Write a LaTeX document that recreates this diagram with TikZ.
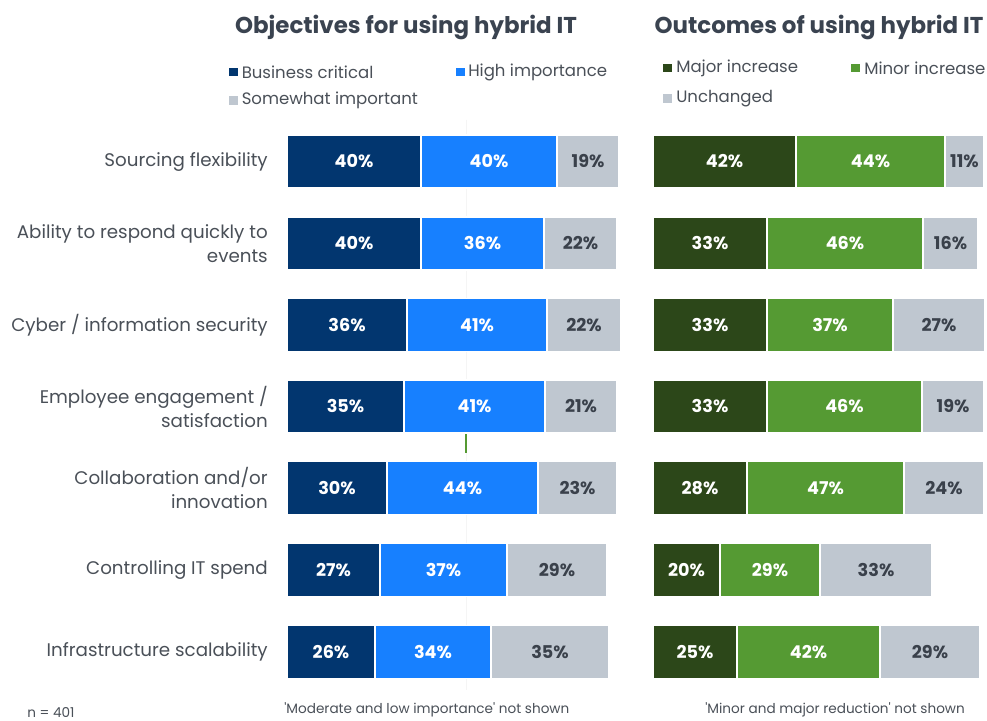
\documentclass[tikz,border=0pt]{standalone}
\usepackage{fontspec}
\setmainfont{Poppins}
\definecolor{navy}{HTML}{02366F}
\definecolor{brightblue}{HTML}{1780FF}
\definecolor{barGray}{HTML}{BFC7D0}
\definecolor{darkgreen}{HTML}{2C4719}
\definecolor{midgreen}{HTML}{559A33}
\definecolor{textgray}{HTML}{4A5058}
\definecolor{titlegray}{HTML}{3A4350}
\definecolor{pctdark}{HTML}{3A414B}
\tikzset{
  seg/.style={draw=white, line width=0.9pt},
  pct/.style={font=\bfseries\fontsize{13.2}{15}\selectfont, inner sep=0pt},
  pctw/.style={pct, text=white},
  pctd/.style={pct, text=pctdark},
  rowlab/.style={anchor=east, align=right, text=textgray, font=\fontsize{13.7}{18}\selectfont, inner sep=0pt},
  legtxt/.style={anchor=west, text=textgray, font=\fontsize{12.4}{15}\selectfont, inner sep=0pt},
  ttl/.style={text=titlegray, font=\bfseries\fontsize{17.2}{20}\selectfont, inner sep=0pt},
  foot/.style={text=textgray, font=\fontsize{10.2}{12}\selectfont, inner sep=0pt, anchor=west},
}
\begin{document}
\begin{tikzpicture}[x=0.75pt,y=-0.75pt]
\useasboundingbox (0,0) rectangle (987,720);
\fill[white] (0,0) rectangle (987,720);
% faint guide line
\draw[draw=black!4, line width=0.6pt] (466,120) -- (466,690);
% titles
\node[ttl] (t1) at (406,27) {Objectives for using hybrid IT};
\node[ttl] (t2) at (819,27) {Outcomes of using hybrid IT};
% legends
\fill[navy] (229,68) rectangle (237.5,76.5);
\node[legtxt] (lg1) at (241.5,72) {Business critical};
\fill[brightblue] (456,68) rectangle (464.5,76.5);
\node[legtxt] (lg2) at (468,72) {High importance};
\fill[barGray] (229,96.5) rectangle (237.5,105);
\node[legtxt] (lg3) at (241.5,100) {Somewhat important};
\fill[darkgreen] (663,64) rectangle (671.5,72.5);
\node[legtxt] (lg4) at (676,68) {Major increase};
\fill[midgreen] (851,64) rectangle (859.5,72.5);
\node[legtxt] (lg5) at (864,68) {Minor increase};
\fill[barGray] (663,94.5) rectangle (671.5,103);
\node[legtxt] (lg6) at (676,99) {Unchanged};
% row labels
\node[rowlab] (r1) at (268,161.5) {Sourcing flexibility};
\node[rowlab] (r2) at (268,243.5) {Ability to respond quickly to\\events};
\node[rowlab] (r3) at (268,325) {Cyber / information security};
\node[rowlab] (r4) at (268,406.5) {Employee engagement /\\satisfaction};
\node[rowlab] (r5) at (268,488) {Collaboration and/or\\innovation};
\node[rowlab] (r6) at (268,570) {Controlling IT spend};
\node[rowlab] (r7) at (268,652) {Infrastructure scalability};
% left bars
\foreach \r/\ya/\a/\b/\c/\pa/\pb/\pc in {
  1/135/421/557/619/40/40/19,
  2/217/421/544/617/40/36/22,
  3/298.5/407/547/621/36/41/22,
  4/380/404/545/617/35/41/21,
  5/461.5/387/538/617/30/44/23,
  6/543.5/380/507/607/27/37/29,
  7/625.5/375/491/609/26/34/35}{
  \path[seg, fill=navy] (287,\ya) rectangle (\a,\ya+53);
  \path[seg, fill=brightblue] (\a,\ya) rectangle (\b,\ya+53);
  \path[seg, fill=barGray] (\b,\ya) rectangle (\c,\ya+53);
  \node[pctw] (L\r a) at ({(287+\a)/2},\ya+26.5) {\pa\%};
  \node[pctw] (L\r b) at ({(\a+\b)/2},\ya+26.5) {\pb\%};
  \node[pctd] (L\r c) at ({(\b+\c)/2},\ya+26.5) {\pc\%};
}
% right bars
\foreach \r/\ya/\a/\b/\c/\pa/\pb/\pc in {
  1/135/796/945/984/42/44/11,
  2/217/767/923/978/33/46/16,
  3/298.5/767/893/985/33/37/27,
  4/380/767/922/984/33/46/19,
  5/461.5/747/904/984/28/47/24,
  6/543.5/720/820/932/20/29/33,
  7/625.5/737/880/980/25/42/29}{
  \path[seg, fill=darkgreen] (653,\ya) rectangle (\a,\ya+53);
  \path[seg, fill=midgreen] (\a,\ya) rectangle (\b,\ya+53);
  \path[seg, fill=barGray] (\b,\ya) rectangle (\c,\ya+53);
  \node[pctw] (R\r a) at ({(653+\a)/2},\ya+26.5) {\pa\%};
  \node[pctw] (R\r b) at ({(\a+\b)/2},\ya+26.5) {\pb\%};
  \node[pctd] (R\r c) at ({(\b+\c)/2},\ya+26.5) {\pc\%};
}
% small green tick
\draw[midgreen, line width=0.9pt] (466,434) -- (466,453);
% footers
\node[foot] (f1) at (27,712) {n = 401};
\node[foot] (f2) at (284,710) {\textquotesingle Moderate and low importance\textquotesingle{} not shown};
\node[foot] (f3) at (705,710) {\textquotesingle Minor and major reduction\textquotesingle{} not shown};
\end{tikzpicture}
\end{document}
